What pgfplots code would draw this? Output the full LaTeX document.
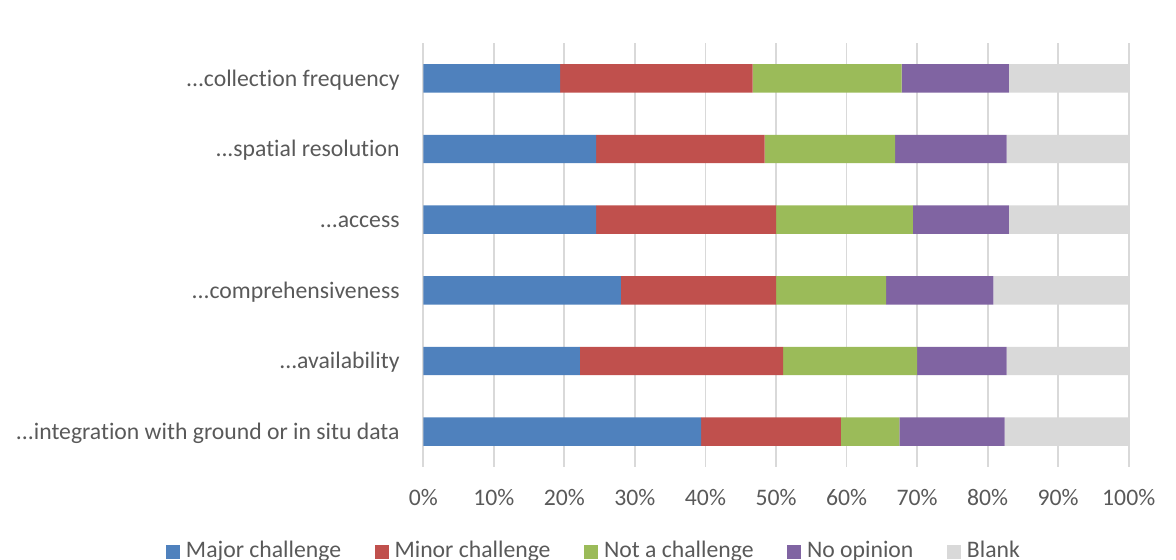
\documentclass[border=0pt]{standalone}
\usepackage{fontspec}
\setmainfont{Carlito}[Ligatures={NoCommon}]
\usepackage{pgfplots}
\pgfplotsset{compat=1.18}
\definecolor{cMajor}{HTML}{4F81BD}
\definecolor{cMinor}{HTML}{C0504D}
\definecolor{cNot}{HTML}{9BBB59}
\definecolor{cNo}{HTML}{8064A2}
\definecolor{cBlank}{HTML}{D9D9D9}
\definecolor{txt}{HTML}{595959}
\definecolor{grid}{HTML}{D9D9D9}
\newcommand\dts{.{}.{}.}
\begin{document}
\fontsize{11.85}{14}\selectfont
\begin{tikzpicture}
\useasboundingbox (-211.65pt,-46.5pt) rectangle (376.35pt,233.5pt);
\begin{axis}[
  at={(0,0)}, anchor=south west,
  scale only axis, width=352.7pt, height=212pt,
  xbar stacked, bar width=14.2pt,
  xmin=0, xmax=100, ymin=-0.5, ymax=5.5,
  ytick={0,1,2,3,4,5},
  yticklabels={{\dts integration with ground or in situ data},{\dts availability},{\dts comprehensiveness},{\dts access},{\dts spatial resolution},{\dts collection frequency}},
  xtick={0,10,20,30,40,50,60,70,80,90,100},
  xticklabels={0\%,10\%,20\%,30\%,40\%,50\%,60\%,70\%,80\%,90\%,100\%},
  xmajorgrids, ymajorgrids=false,
  grid style={draw=grid, line width=0.9pt},
  axis line style={draw=none},
  major tick length=0pt,
  tick label style={font=\fontsize{11.85}{14}\selectfont, text=txt, inner sep=0pt},
  yticklabel style={anchor=base east, xshift=-11.65pt, yshift=-4pt},
  xticklabel style={anchor=base, yshift=-19.5pt},
  legend columns=5,
  legend image code/.code={\fill[#1] (0pt,-0.5pt) rectangle (7pt,6.5pt);},
  legend style={draw=none, fill=none, inner sep=0pt, outer sep=0pt,
    at={(axis description cs:0,0)}, anchor=west, xshift=-128.65pt, yshift=-42.5pt,
    font=\fontsize{11.85}{14}\selectfont, text=txt,
    nodes={inner sep=0pt, outer sep=0pt, text height=8.5pt, text depth=2.5pt},
    cells={anchor=base west},
    /tikz/every odd column/.append style={column sep=3pt},
    /tikz/every even column/.append style={column sep=16.75pt}},
]
\addplot[fill=cMajor, draw=none] coordinates {(39.4,0) (22.2,1) (28.0,2) (24.5,3) (24.5,4) (19.4,5)};
\addlegendentry{Major challenge}
\addplot[fill=cMinor, draw=none] coordinates {(19.8,0) (28.8,1) (22.0,2) (25.5,3) (23.9,4) (27.3,5)};
\addlegendentry{Minor challenge}
\addplot[fill=cNot, draw=none] coordinates {(8.3,0) (19.0,1) (15.6,2) (19.4,3) (18.5,4) (21.1,5)};
\addlegendentry{Not a challenge}
\addplot[fill=cNo, draw=none] coordinates {(14.9,0) (12.7,1) (15.2,2) (13.6,3) (15.8,4) (15.2,5)};
\addlegendentry{No opinion}
\addplot[fill=cBlank, draw=none] coordinates {(17.6,0) (17.3,1) (19.2,2) (17.0,3) (17.3,4) (17.0,5)};
\addlegendentry{Blank}
\end{axis}
\end{tikzpicture}
\end{document}
